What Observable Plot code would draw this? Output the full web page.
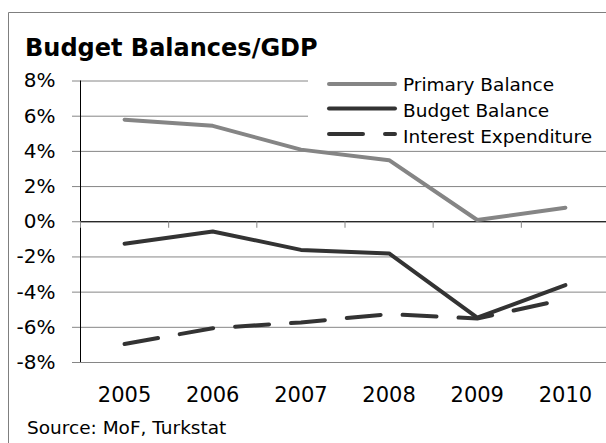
<!DOCTYPE html>
<html>
<head>
<meta charset="utf-8">
<script src="https://cdn.jsdelivr.net/npm/d3@7"></script>
<script src="https://cdn.jsdelivr.net/npm/@observablehq/plot@0.6"></script>
<style>
  html, body { margin: 0; padding: 0; background: #fff; width: 606px; height: 443px; overflow: hidden; }
  #wrap { position: relative; width: 606px; height: 443px; overflow: hidden; font-family: "DejaVu Sans", sans-serif; }
  #plot { position: absolute; left: 0; top: 62px; width: 612px; height: 348px; }
  #plot svg { max-width: none !important; }
  #overlay { position: absolute; left: 0; top: 0; pointer-events: none; }
</style>
</head>
<body>
<div id="wrap">
  <div id="plot"></div>
</div>
<script>
// ---- Data ----
const years = [2005, 2006, 2007, 2008, 2009, 2010];
const primaryBalance = [5.8, 5.45, 4.1, 3.5, 0.1, 0.8];
const budgetBalance = [-1.25, -0.55, -1.6, -1.8, -5.45, -3.6];
const interestExpenditure = [-6.95, -6.05, -5.72, -5.25, -5.5, -4.4];
const seriesNames = ["Primary Balance", "Budget Balance", "Interest Expenditure"];
const yTicks = [-8, -6, -4, -2, 0, 2, 4, 6, 8];
const titleText = "Budget Balances/GDP";
const sourceText = "Source: MoF, Turkstat";

// ---- Styles ----
const seriesStyles = [
  {stroke: "#858585", dash: null},
  {stroke: "#333333", dash: null},
  {stroke: "#333333", dash: "34,22"}
];
const seriesValues = [primaryBalance, budgetBalance, interestExpenditure];
const rowsFor = vals => years.map((yr, i) => ({year: yr, value: vals[i]}));
const boundaries = years.map(y => y - 0.5);

const lineMarks = seriesValues.map((vals, i) => Plot.line(rowsFor(vals), {
  x: "year", y: "value",
  stroke: seriesStyles[i].stroke,
  strokeWidth: 4,
  strokeLinecap: "round",
  strokeLinejoin: "round",
  strokeDasharray: seriesStyles[i].dash || undefined
}));

const chart = Plot.plot({
  width: 612,
  height: 348,
  marginLeft: 80,
  marginRight: 3,
  marginTop: 18.5,
  marginBottom: 48,
  style: {fontFamily: "DejaVu Sans, sans-serif", fontSize: "20px", background: "transparent",
          overflow: "visible", color: "#000", maxWidth: "none"},
  x: {domain: [years[0] - 0.5, years[years.length - 1] + 0.5]},
  y: {domain: [yTicks[0], yTicks[yTicks.length - 1]]},
  marks: [
    Plot.ruleY(yTicks, {stroke: "#868686"}),
    Plot.ruleY([0], {stroke: "#000"}),
    Plot.ruleX([boundaries[0]], {stroke: "#000"}),
    Plot.ruleX(boundaries, {y1: 0, y2: -0.37, stroke: "#868686"}),
    Plot.axisY({ticks: yTicks, tickFormat: d => d + "%", tickSize: 8, tickPadding: 17,
                stroke: "#868686", fill: "#000", label: null, fontSize: 20}),
    Plot.axisX({ticks: years, tickFormat: d => String(d), tickSize: 0, tickPadding: 25,
                fill: "#000", label: null, fontSize: 21, fontWeight: "normal"}),
    ...lineMarks
  ]
});
document.getElementById("plot").appendChild(chart);

// ---- Frame, title, legend and source overlay ----
const ns = "http://www.w3.org/2000/svg";
const ov = document.createElementNS(ns, "svg");
ov.setAttribute("id", "overlay");
ov.setAttribute("width", 606);
ov.setAttribute("height", 443);
document.getElementById("wrap").appendChild(ov);
function el(tag, attrs, text) {
  const e = document.createElementNS(ns, tag);
  for (const k in attrs) e.setAttribute(k, attrs[k]);
  if (text != null) e.textContent = text;
  ov.appendChild(e);
  return e;
}
el("path", {d: "M8.5,443V12.5H606", fill: "none", stroke: "#7f7f7f", "stroke-width": 1});
el("text", {x: 25, y: 56, "font-family": "DejaVu Sans", "font-weight": "bold", "font-size": 24, fill: "#000"}, titleText);
el("text", {x: 27, y: 434, "font-family": "DejaVu Sans", "font-size": 18.5, fill: "#000"}, sourceText);
el("rect", {x: 308, y: 66, width: 298, height: 81, fill: "#fff"});
const legendY = [84, 108.5, 134];
const legendTextY = [91, 116.7, 142.7];
seriesNames.forEach((name, i) => {
  const a = {x1: 329, x2: 395, y1: legendY[i], y2: legendY[i], stroke: seriesStyles[i].stroke,
             "stroke-width": 4, "stroke-linecap": "round"};
  if (seriesStyles[i].dash) a["stroke-dasharray"] = seriesStyles[i].dash;
  el("line", a);
  el("text", {x: 403, y: legendTextY[i], "font-family": "DejaVu Sans", "font-size": 18.5, fill: "#000"}, name);
});
</script>
</body>
</html>
